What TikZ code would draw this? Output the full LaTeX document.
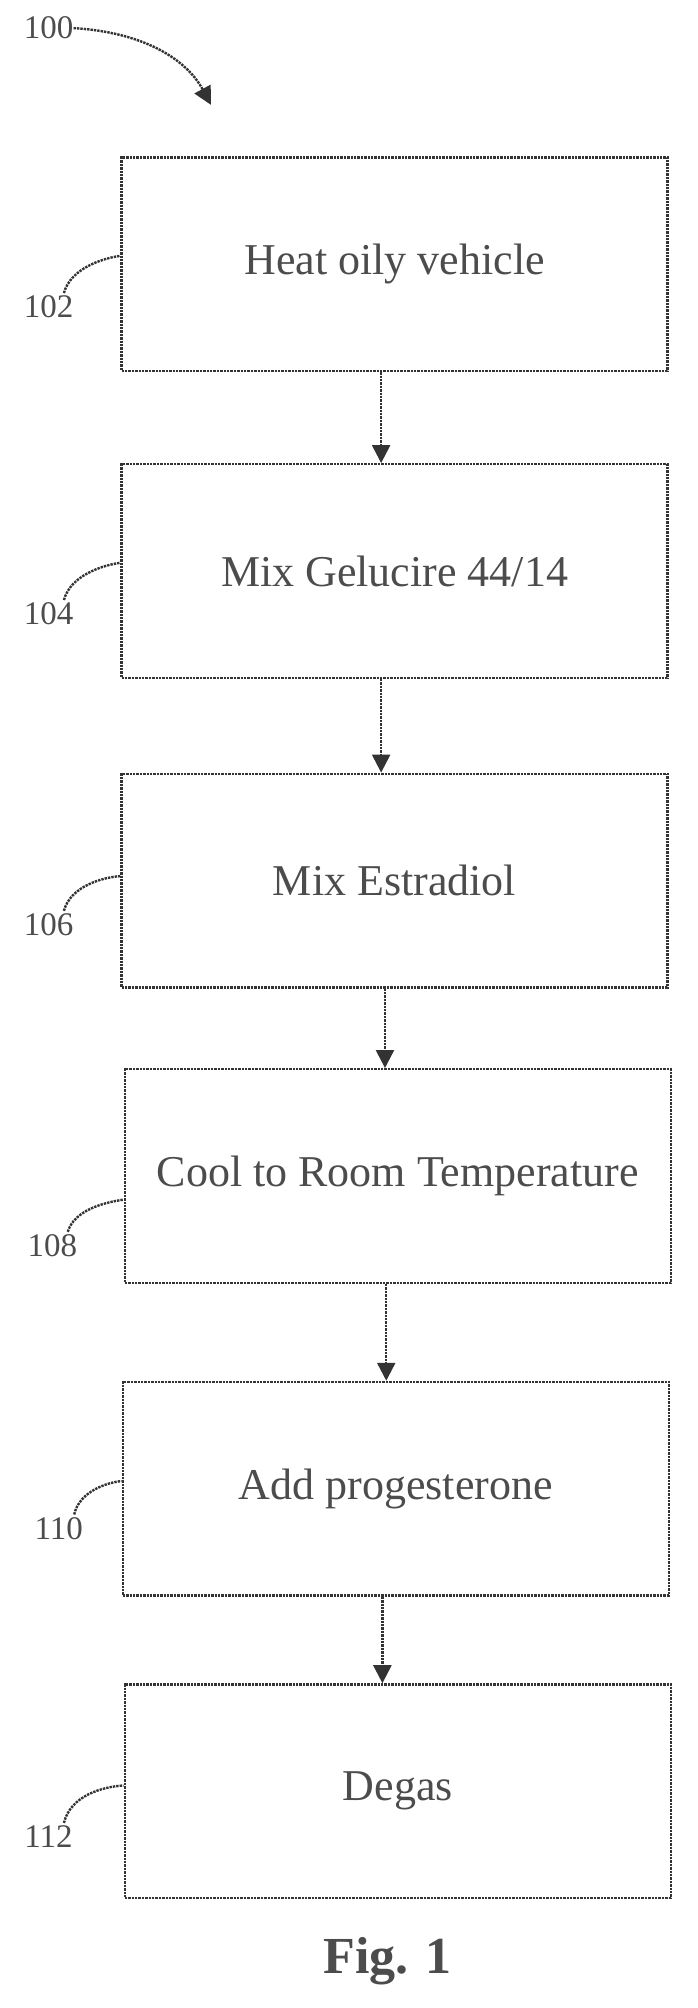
\documentclass[tikz,border=0pt]{standalone}
\usepackage{fontspec}
\setmainfont{Liberation Serif}
\usetikzlibrary{arrows.meta}
\begin{document}
\begin{tikzpicture}[x=1.279pt,y=-1.279pt,
  ln/.style={black!80,line width=2.4pt,densely dotted},
  stepbox/.style={ln,draw,minimum width=427*1.279pt,minimum height=167*1.279pt,inner sep=0pt,font=\fontsize{44}{50}\selectfont,text=black!70},
  lab/.style={font=\fontsize{33}{38}\selectfont,text=black!70,inner sep=0pt},
  arr/.style={ln,-{Triangle[length=18pt,width=18pt]}}]
\useasboundingbox (0,0) rectangle (545,1570);
\node[stepbox] (b1) at (308.5,206.5) {Heat oily vehicle};
\node[stepbox] (b2) at (308.5,446.5) {Mix Gelucire 44/14};
\node[stepbox] (b3) at (308.5,688.5) {Mix Estradiol};
\node[stepbox] (b4) at (311,919.5) {Cool to Room Temperature};
\node[stepbox] (b5) at (309.5,1164) {Add progesterone};
\node[stepbox] (b6) at (311,1400.5) {Degas};
\draw[arr] (298,0 |- b1.south) -- (298,0 |- b2.north);
\draw[arr] (298,0 |- b2.south) -- (298,0 |- b3.north);
\draw[arr] (301,0 |- b3.south) -- (301,0 |- b4.north);
\draw[arr] (302,0 |- b4.south) -- (302,0 |- b5.north);
\draw[arr] (299,0 |- b5.south) -- (299,0 |- b6.north);
\node[lab] (l100) at (38,22) {100};
\coordinate (t100) at (165,82);
\draw[arr] (l100.east) .. controls (110,25) and (145,45) .. (t100);
\node[lab] (l102) at (38,240) {102};
\node[lab] (l104) at (38,480) {104};
\node[lab] (l106) at (38,723) {106};
\node[lab] (l108) at (41,974) {108};
\node[lab] (l110) at (46,1195) {110};
\node[lab] (l112) at (38,1436) {112};
\draw[ln] (l102.north) ++(12,-2) .. controls (55,210) and (80,202) .. (b1.west |- 0,200);
\draw[ln] (l104.north) ++(12,-2) .. controls (55,450) and (80,442) .. (b2.west |- 0,440);
\draw[ln] (l106.north) ++(12,-2) .. controls (55,693) and (80,686) .. (b3.west |- 0,685);
\draw[ln] (l108.north) ++(12,-2) .. controls (58,946) and (82,940) .. (b4.west |- 0,938);
\draw[ln] (l110.north) ++(12,-2) .. controls (62,1166) and (84,1159) .. (b5.west |- 0,1158);
\draw[ln] (l112.north) ++(12,-2) .. controls (55,1404) and (80,1397) .. (b6.west |- 0,1396);
\node[font=\bfseries\fontsize{52}{60}\selectfont,text=black!70] (fig) at (303,1533) {Fig. 1};
\end{tikzpicture}
\end{document}
